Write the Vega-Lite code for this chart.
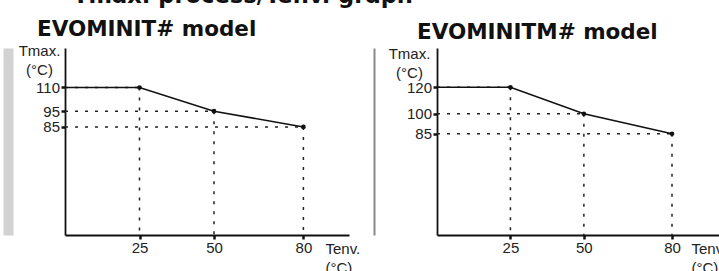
{
  "$schema": "https://vega.github.io/schema/vega-lite/v6.json",
  "autosize": {"type": "none"},
  "padding": {"left": 65, "top": 48, "right": 654, "bottom": 223},
  "background": "white",
  "bounds": "flush",
  "spacing": 88,
  "title": {"text": "Tmax. process/Tenv. graph", "anchor": "start", "frame": "group", "font": "DejaVu Sans", "fontSize": 22.6, "fontWeight": "bold", "color": "#111", "baseline": "alphabetic", "offset": -7.5, "dx": 8},
  "config": {
    "view": {"stroke": null},
    "axis": {"domainColor": "#111", "domainWidth": 1.8, "tickColor": "#111", "tickWidth": 2.5, "tickSize": 4, "labelFont": "Liberation Sans", "labelFontSize": 15, "labelColor": "#222", "grid": false, "titleFont": "Liberation Sans", "titleFontSize": 15, "titleFontWeight": "normal", "titleColor": "#222", "titleAngle": 0, "titleLineHeight": 19, "labelPadding": 1.5, "labelFlush": false, "labelOverlap": false}
  },
  "datasets": {
    "evominit": [
      {"tenv": 0, "tmax": 110},
      {"tenv": 25, "tmax": 110},
      {"tenv": 50, "tmax": 95},
      {"tenv": 80, "tmax": 85}
    ],
    "evominitm": [
      {"tenv": 0, "tmax": 120},
      {"tenv": 25, "tmax": 120},
      {"tenv": 50, "tmax": 100},
      {"tenv": 80, "tmax": 85}
    ]
  },
  "hconcat": [
    {
      "width": 284,
      "height": 187,
      "title": {"text": "EVOMINIT# model", "anchor": "start", "frame": "group", "dx": -28, "offset": -14, "baseline": "alphabetic", "font": "DejaVu Sans", "fontSize": 21.5, "fontWeight": "bold", "color": "#111"},
      "data": {"name": "evominit"},
      "resolve": {"axis": {"y": "independent"}},
      "layer": [
        {
          "encoding": {
            "x": {"field": "tenv", "type": "quantitative", "scale": {"domain": [0, 95.3], "nice": false, "zero": false}, "axis": {"values": [25, 50, 80], "title": ["Tenv.", "(°C)"], "titleAlign": "left", "titleX": 260, "titleY": 13, "titleBaseline": "middle"}},
            "y": {"field": "tmax", "type": "quantitative", "scale": {"domain": [16.6, 135], "nice": false, "zero": false}, "axis": {"values": [85, 95, 110], "title": ["Tmax.", "(°C)"], "titleAlign": "center", "titleX": -26, "titleY": 2, "titleBaseline": "middle"}}
          },
          "layer": [
            {"mark": {"type": "rule", "strokeDash": [3, 7], "strokeWidth": 1.5, "color": "#222"}, "transform": [{"filter": "datum.tenv > 0"}], "encoding": {"y2": {"value": "height"}}},
            {"mark": {"type": "rule", "strokeDash": [3, 7], "strokeWidth": 1.5, "color": "#222"}, "transform": [{"filter": "datum.tenv > 0"}], "encoding": {"x": {"datum": 0}, "x2": {"field": "tenv"}}},
            {"mark": {"type": "line", "strokeWidth": 1.6, "color": "#111"}, "encoding": {}},
            {"mark": {"type": "point", "shape": "circle", "filled": true, "size": 22, "color": "#111", "opacity": 1}, "transform": [{"filter": "datum.tenv > 0"}], "encoding": {}},
            {"data": {"values": [{"arrow": "y"}]}, "mark": {"type": "point", "shape": "M0,0L-1,1.7L1,1.7Z", "filled": true, "size": 169, "color": "#111", "opacity": 1, "strokeWidth": 0}, "encoding": {"x": {"datum": 0}, "y": {"datum": 135}}},
            {"data": {"values": [{"arrow": "x"}]}, "mark": {"type": "point", "shape": "M0,0L-2,-0.8L-2,0.8Z", "filled": true, "size": 196, "color": "#111", "opacity": 1, "strokeWidth": 0}, "encoding": {"x": {"datum": 95.3}, "y": {"datum": 16.6}}}
          ]
        },
        {
          "mark": {"type": "point", "opacity": 0},
          "encoding": {
            "x": {"field": "tenv", "type": "quantitative"},
            "y": {"field": "tmax", "type": "quantitative", "axis": {"orient": "left", "offset": 57, "domainColor": "#d2d2d2", "domainWidth": 10, "ticks": false, "labels": false, "title": null}}
          }
        }
      ]
    },
    {
      "width": 282,
      "height": 187,
      "title": {"text": "EVOMINITM# model", "anchor": "start", "frame": "group", "dx": -20, "offset": -14, "baseline": "alphabetic", "font": "DejaVu Sans", "fontSize": 21.5, "fontWeight": "bold", "color": "#111"},
      "data": {"name": "evominitm"},
      "resolve": {"axis": {"y": "independent"}},
      "layer": [
        {
          "encoding": {
            "x": {"field": "tenv", "type": "quantitative", "scale": {"domain": [0, 96], "nice": false, "zero": false}, "axis": {"values": [25, 50, 80], "title": ["Tenv.", "(°C)"], "titleAlign": "left", "titleX": 254, "titleY": 13, "titleBaseline": "middle"}},
            "y": {"field": "tmax", "type": "quantitative", "scale": {"domain": [8.7, 149.6], "nice": false, "zero": false}, "axis": {"values": [85, 100, 120], "title": ["Tmax.", "(°C)"], "titleAlign": "center", "titleX": -28, "titleY": 5, "titleBaseline": "middle"}}
          },
          "layer": [
            {"mark": {"type": "rule", "strokeDash": [3, 7], "strokeWidth": 1.5, "color": "#222"}, "transform": [{"filter": "datum.tenv > 0"}], "encoding": {"y2": {"value": "height"}}},
            {"mark": {"type": "rule", "strokeDash": [3, 7], "strokeWidth": 1.5, "color": "#222"}, "transform": [{"filter": "datum.tenv > 0"}], "encoding": {"x": {"datum": 0}, "x2": {"field": "tenv"}}},
            {"mark": {"type": "line", "strokeWidth": 1.6, "color": "#111"}, "encoding": {}},
            {"mark": {"type": "point", "shape": "circle", "filled": true, "size": 22, "color": "#111", "opacity": 1}, "transform": [{"filter": "datum.tenv > 0"}], "encoding": {}},
            {"data": {"values": [{"arrow": "y"}]}, "mark": {"type": "point", "shape": "M0,0L-1,1.7L1,1.7Z", "filled": true, "size": 169, "color": "#111", "opacity": 1, "strokeWidth": 0}, "encoding": {"x": {"datum": 0}, "y": {"datum": 149.6}}},
            {"data": {"values": [{"arrow": "x"}]}, "mark": {"type": "point", "shape": "M0,0L-2,-0.8L-2,0.8Z", "filled": true, "size": 196, "color": "#111", "opacity": 1, "strokeWidth": 0}, "encoding": {"x": {"datum": 96}, "y": {"datum": 8.7}}}
          ]
        },
        {
          "mark": {"type": "point", "opacity": 0},
          "encoding": {
            "x": {"field": "tenv", "type": "quantitative"},
            "y": {"field": "tmax", "type": "quantitative", "axis": {"orient": "left", "offset": 63, "domainColor": "#888888", "domainWidth": 2, "ticks": false, "labels": false, "title": null}}
          }
        }
      ]
    }
  ]
}
